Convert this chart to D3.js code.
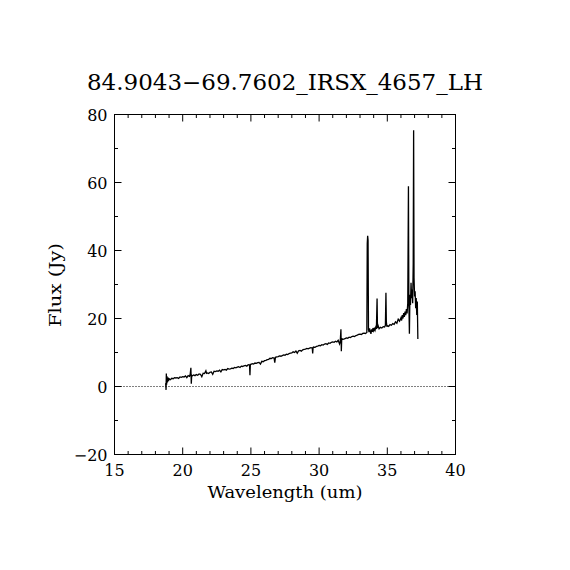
<!DOCTYPE html>
<html>
<head>
<meta charset="utf-8">
<script src="https://cdn.jsdelivr.net/npm/d3@7"></script>
<style>
  body { margin: 0; background: #fff; }
  text { font-family: "DejaVu Serif", "Liberation Serif", serif; fill: #000; }
</style>
</head>
<body>
<div id="chart"></div>
<script>
const title = "84.9043\u221269.7602_IRSX_4657_LH";
const xTicks = [15, 20, 25, 30, 35, 40];
const yTicks = [-20, 0, 20, 40, 60, 80];

// wavelength (um)
const wave = [
  18.75, 18.78, 18.80, 18.82, 18.85, 18.88, 18.92, 18.96, 19.0, 19.1,
  19.2, 19.3, 19.4, 19.5, 19.6, 19.7, 19.8, 19.9, 20.0, 20.1,
  20.2, 20.3, 20.4, 20.5, 20.55, 20.6, 20.63, 20.66, 20.7, 20.8,
  20.9, 21.0, 21.1, 21.2, 21.3, 21.4, 21.5, 21.6, 21.7, 21.75,
  21.8, 21.9, 22.0, 22.1, 22.2, 22.3, 22.4, 22.5, 22.6, 22.7,
  22.8, 22.9, 23.0, 23.1, 23.2, 23.3, 23.4, 23.5, 23.6, 23.7,
  23.8, 23.9, 24.0, 24.1, 24.2, 24.3, 24.4, 24.5, 24.6, 24.7,
  24.8, 24.9, 24.93, 24.96, 25.0, 25.1, 25.2, 25.3, 25.4, 25.5,
  25.6, 25.7, 25.8, 25.9, 26.0, 26.1, 26.2, 26.3, 26.4, 26.5,
  26.6, 26.7, 26.75, 26.8, 26.9, 27.0, 27.1, 27.2, 27.3, 27.4,
  27.5, 27.6, 27.7, 27.8, 27.9, 28.0, 28.1, 28.2, 28.3, 28.4,
  28.5, 28.6, 28.7, 28.8, 28.9, 29.0, 29.1, 29.2, 29.3, 29.4,
  29.5, 29.53, 29.56, 29.6, 29.7, 29.8, 29.9, 30.0, 30.1, 30.2,
  30.3, 30.4, 30.5, 30.6, 30.7, 30.8, 30.9, 31.0, 31.1, 31.2,
  31.3, 31.4, 31.5, 31.55, 31.6, 31.63, 31.66, 31.7, 31.8, 31.9,
  32.0, 32.1, 32.2, 32.3, 32.4, 32.5, 32.6, 32.7, 32.8, 32.9,
  33.0, 33.1, 33.2, 33.3, 33.4, 33.5, 33.53, 33.56, 33.59, 33.62,
  33.66, 33.7, 33.75, 33.8, 33.85, 33.9, 33.95, 34.0, 34.05, 34.1,
  34.15, 34.2, 34.25, 34.28, 34.32, 34.4, 34.5, 34.6, 34.7, 34.8,
  34.86, 34.9, 34.93, 34.97, 35.0, 35.1, 35.2, 35.3, 35.4, 35.5,
  35.6, 35.7, 35.8, 35.9, 36.0, 36.05, 36.1, 36.15, 36.2, 36.25,
  36.3, 36.35, 36.4, 36.45, 36.5, 36.55, 36.58, 36.62, 36.66, 36.7,
  36.74, 36.78, 36.82, 36.86, 36.9, 36.93, 36.96, 37.0, 37.04, 37.08,
  37.12, 37.16, 37.2, 37.24
];

// flux (Jy)
const flux = [
  1.0, -1.0, 3.8, 0.5, 3.0, 1.2, 2.6, 1.6, 2.3, 2.0,
  2.4, 2.3, 2.6, 2.5, 2.6, 2.4, 2.8, 2.7, 2.9, 2.8,
  3.1, 2.6, 3.2, 3.0, 3.6, 5.5, 0.8, 3.3, 3.1, 3.4,
  3.2, 3.5, 3.3, 3.7, 3.6, 2.9, 3.9, 3.8, 4.6, 3.9,
  4.0, 3.8, 4.2, 4.3, 3.6, 4.5, 4.4, 4.6, 4.5, 4.8,
  4.3, 5.0, 4.9, 5.0, 4.8, 5.3, 5.1, 5.2, 5.4, 5.3,
  5.6, 5.5, 5.7, 5.8, 5.6, 6.0, 5.9, 6.1, 6.2, 6.0,
  6.4, 6.3, 3.3, 6.5, 6.5, 6.7, 6.6, 6.9, 6.8, 7.0,
  7.1, 6.6, 7.4, 7.3, 7.6, 7.7, 7.9, 8.0, 8.3, 8.2,
  8.5, 8.4, 7.0, 8.6, 8.7, 8.8, 9.0, 8.9, 9.1, 9.3,
  9.2, 9.5, 9.4, 9.7, 9.8, 9.9, 10.2, 10.0, 10.4, 9.8,
  10.5, 10.6, 10.4, 10.8, 10.9, 11.0, 11.2, 11.1, 11.3, 11.4,
  11.3, 9.7, 11.5, 11.6, 11.5, 11.8, 11.9, 12.1, 12.0, 12.3,
  12.2, 12.5, 12.6, 12.4, 12.8, 12.7, 13.0, 13.1, 13.0, 13.3,
  13.1, 13.6, 12.5, 13.2, 16.8, 10.4, 14.2, 13.8, 13.9, 14.1,
  14.3, 14.2, 14.5, 14.4, 14.7, 14.8, 14.7, 15.0, 15.1, 15.3,
  15.4, 15.3, 15.6, 15.7, 15.6, 15.9, 42.0, 44.3, 43.0, 16.8,
  16.0, 17.1, 16.2, 15.5, 16.8, 16.1, 17.2, 16.4, 17.0, 16.5,
  17.4, 16.9, 25.9, 17.2, 18.0, 17.0, 17.4, 17.2, 17.6, 17.5,
  18.0, 27.6, 19.0, 17.6, 17.9, 17.7, 18.2, 18.0, 18.5, 18.3,
  19.0, 18.6, 19.8, 19.2, 20.2, 19.4, 21.0, 20.0, 21.6, 20.5,
  22.0, 21.0, 22.8, 21.5, 24.5, 58.9, 25.0, 15.5, 27.0, 24.0,
  30.5, 26.0, 28.5, 24.5, 36.0, 75.4, 32.0, 26.5, 28.0, 23.0,
  26.0, 21.0, 25.0, 14.0
];

const W = 570, H = 570;
const margin = { left: 114.5, right: 114.5, top: 114.5, bottom: 115.5 };

const svg = d3.select('#chart').append('svg')
  .attr('width', W)
  .attr('height', H);

const x = d3.scaleLinear().domain([15, 40]).range([margin.left, W - margin.right]);
const y = d3.scaleLinear().domain([-20, 80]).range([H - margin.bottom, margin.top]);

const x0 = x.range()[0], x1 = x.range()[1];
const y0 = y.range()[0], y1 = y.range()[1];

// frame
svg.append('rect')
  .attr('x', x0).attr('y', y1)
  .attr('width', x1 - x0).attr('height', y0 - y1)
  .attr('fill', 'none').attr('stroke', '#000').attr('stroke-width', 1);

// ticks (inward on all four sides)
const xMinor = d3.range(15, 40.01, 1);
const yMinor = d3.range(-20, 80.01, 10);
const tickG = svg.append('g').attr('stroke', '#000').attr('stroke-width', 1);

xMinor.forEach(v => {
  const len = xTicks.includes(v) ? 7 : 3.5;
  tickG.append('line').attr('x1', x(v)).attr('x2', x(v)).attr('y1', y0).attr('y2', y0 - len);
  tickG.append('line').attr('x1', x(v)).attr('x2', x(v)).attr('y1', y1).attr('y2', y1 + len);
});
yMinor.forEach(v => {
  const len = yTicks.includes(v) ? 7 : 3.5;
  tickG.append('line').attr('y1', y(v)).attr('y2', y(v)).attr('x1', x0).attr('x2', x0 + len);
  tickG.append('line').attr('y1', y(v)).attr('y2', y(v)).attr('x1', x1).attr('x2', x1 - len);
});

// tick labels
const fmt = d3.format('d');
svg.append('g').selectAll('text')
  .data(xTicks).enter().append('text')
  .attr('x', d => x(d))
  .attr('y', y0 + 21)
  .attr('text-anchor', 'middle')
  .style('font-size', '16px')
  .text(d => fmt(d));

svg.append('g').selectAll('text')
  .data(yTicks).enter().append('text')
  .attr('x', x0 - 7)
  .attr('y', d => y(d) + 6)
  .attr('text-anchor', 'end')
  .style('font-size', '16px')
  .text(d => fmt(d));

// zero line
svg.append('line')
  .attr('x1', x0).attr('x2', x1)
  .attr('y1', y(0)).attr('y2', y(0))
  .attr('stroke', '#000').attr('stroke-width', 1)
  .attr('stroke-dasharray', '1,2');

// spectrum
const pts = wave.map((w, i) => [w, flux[i]]);
const line = d3.line().x(d => x(d[0])).y(d => y(d[1]));
svg.append('path')
  .datum(pts)
  .attr('d', line)
  .attr('fill', 'none')
  .attr('stroke', '#000')
  .attr('stroke-width', 1.3);

// title and axis labels
svg.append('text')
  .attr('x', 285).attr('y', 90)
  .attr('text-anchor', 'middle')
  .attr('textLength', 396)
  .attr('lengthAdjust', 'spacingAndGlyphs')
  .style('font-size', '22px')
  .text(title);

svg.append('text')
  .attr('x', 285).attr('y', 498)
  .attr('text-anchor', 'middle')
  .attr('textLength', 155)
  .attr('lengthAdjust', 'spacingAndGlyphs')
  .style('font-size', '17px')
  .text('Wavelength (um)');

svg.append('text')
  .attr('transform', `translate(61, 285) rotate(-90)`)
  .attr('text-anchor', 'middle')
  .attr('textLength', 84)
  .attr('lengthAdjust', 'spacingAndGlyphs')
  .style('font-size', '17px')
  .text('Flux (Jy)');
</script>
</body>
</html>
